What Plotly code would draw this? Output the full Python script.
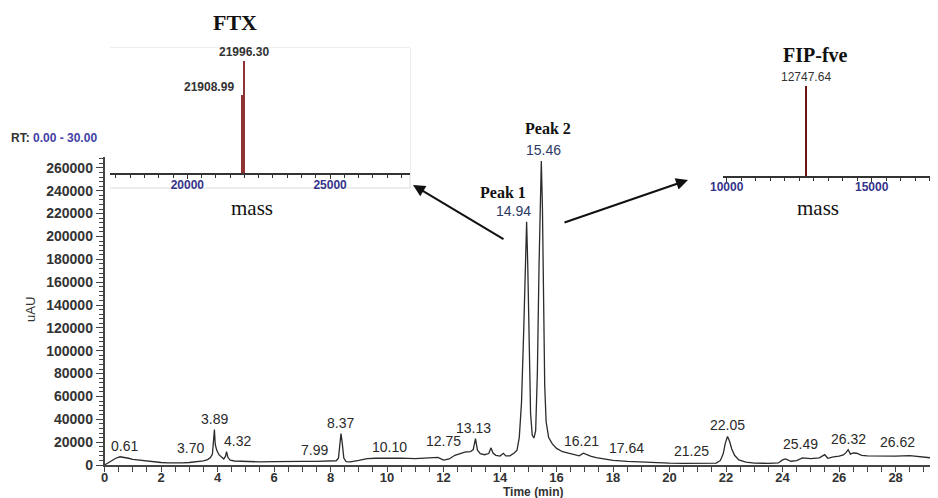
import plotly.graph_objects as go

# ---------------- data ----------------
time_min = [0.00, 0.10, 0.20, 0.40, 0.55, 0.70, 0.85, 1.00, 1.25, 1.50, 1.75, 2.00, 2.25, 2.50, 2.75,
            3.00, 3.30, 3.50, 3.65, 3.75, 3.82, 3.86, 3.89, 3.92, 3.97, 4.05, 4.15, 4.22, 4.28, 4.32,
            4.37, 4.45, 4.60, 5.00, 5.50, 6.00, 6.50, 7.00, 7.50, 7.99, 8.20, 8.28, 8.33, 8.37, 8.42,
            8.47, 8.55, 8.70, 9.00, 9.30, 9.60, 10.00, 10.50, 11.00, 11.50, 11.80, 12.00, 12.20, 12.40,
            12.60, 12.75, 12.95, 13.05, 13.13, 13.20, 13.30, 13.45, 13.60, 13.68, 13.75, 13.85, 14.00,
            14.12, 14.20, 14.35, 14.50, 14.60, 14.68, 14.76, 14.84, 14.90, 14.94, 14.98, 15.03, 15.08,
            15.14, 15.20, 15.26, 15.32, 15.38, 15.43, 15.46, 15.50, 15.54, 15.58, 15.63, 15.72, 15.85,
            16.00, 16.21, 16.40, 16.60, 16.80, 16.95, 17.05, 17.20, 17.40, 17.64, 18.00, 18.50, 19.00,
            19.50, 20.00, 20.50, 21.00, 21.25, 21.45, 21.65, 21.80, 21.90, 21.97, 22.05, 22.12, 22.20,
            22.30, 22.45, 22.70, 23.00, 23.50, 23.85, 24.00, 24.10, 24.30, 24.50, 24.70, 25.00, 25.30,
            25.49, 25.60, 25.80, 26.00, 26.15, 26.25, 26.32, 26.40, 26.50, 26.62, 26.80, 27.00, 27.50,
            28.00, 28.50, 29.00, 29.50]
intensity_uAU = [0, 1500, 3100, 5900, 7200, 6800, 5900, 5000, 4200, 3400, 2800, 2200, 1900, 1600, 1800,
                 2200, 2800, 3600, 4700, 6500, 9500, 20000, 31000, 18000, 13000, 9000, 6500, 5300, 7500, 11600,
                 6500, 4200, 3500, 2900, 2700, 2900, 2700, 3100, 3200, 3700, 3700, 6000, 18000, 27500, 18000,
                 6000, 3000, 2800, 4100, 5600, 5900, 6200, 6000, 5600, 6000, 6600, 4300, 5300, 8500,
                 10300, 11200, 11600, 13500, 23000, 13000, 10000, 9000, 10000, 15000, 10500, 8500, 7800,
                 10200, 8000, 8000, 10500, 13000, 24000, 55000, 120000, 185000, 212800, 175000, 100000, 45000,
                 26000, 23600, 30000, 80000, 175000, 245000, 266000, 225000, 140000, 70000, 38000, 24000, 18500,
                 14500, 11600, 10300, 8800, 8000, 10300, 9000, 7800, 6500, 5600, 4100, 3200, 2500,
                 2000, 1600, 1500, 1600, 2200, 1800, 1700, 4000, 10000, 19000, 25000, 21000, 14000,
                 8500, 4500, 2500, 1600, 1500, 1800, 4500, 5300, 3300, 3800, 6200, 5600, 6200,
                 9000, 5900, 7200, 7800, 8800, 11000, 13400, 9500, 10500, 10300, 8400, 8000, 7600,
                 7800, 8200, 6600, 5600]

peak_rt = ["0.61", "3.70", "3.89", "4.32", "7.99", "8.37", "10.10", "12.75", "13.13", "14.94",
           "15.46", "16.21", "17.64", "21.25", "22.05", "25.49", "26.32", "26.62"]
peak_height = [7200, 5600, 31000, 11600, 3700, 27500, 6200, 11200, 23000, 212800,
               266000, 11600, 5600, 2200, 25000, 9000, 13400, 10300]

ftx_mass = [21908.99, 21996.30]
ftx_rel_abund = [70, 100]
fip_mass = [12747.64]
fip_rel_abund = [100]

# ---------------- layout helpers ----------------
# the page body has an 8px margin, so the figure is drawn 8px in from the top-left
OFF = 8
W, H = 938 - OFF, 498 - OFF


def px(x, y):
    """reference-image pixel -> paper coordinate"""
    return (x - OFF) / W, 1 - (y - OFF) / H


# per-label pixel offsets (label placement only)
label_xshift = [3, -19, 0, 11, -16, 0, 0, -21, -2, -13, 2, 19, 24, -13, 0, -24, 0, 41]
label_color = ["#2a2a2a"] * 9 + ["#2c3a66", "#2c3a66"] + ["#2a2a2a"] * 7

fig = go.Figure()

fig.add_trace(go.Scatter(x=time_min, y=intensity_uAU, mode="lines",
                         line=dict(color="#2b2b2b", width=1.3), xaxis="x", yaxis="y",
                         showlegend=False, hoverinfo="skip"))

fig.add_trace(go.Bar(x=ftx_mass, y=ftx_rel_abund, width=[55, 55],
                     marker=dict(color="#8e3434", line=dict(width=0)),
                     xaxis="x2", yaxis="y2", showlegend=False))
fig.add_trace(go.Bar(x=fip_mass, y=fip_rel_abund, width=[60],
                     marker=dict(color="#6a1414", line=dict(width=0)),
                     xaxis="x3", yaxis="y3", showlegend=False))

tickfont_main = dict(family="Liberation Sans, Arial", size=14, color="#333333", weight="bold")
tickfont_x = dict(family="Liberation Sans, Arial", size=13, color="#333333", weight="bold")
tickfont_ins = dict(family="Liberation Sans, Arial", size=12, color="#34348a", weight="bold")

main_x0, main_y0 = px(104.5, 465)
main_x1, main_y1 = px(938, 157)

ftx_x0, ftx_y0 = px(110, 173)
ftx_x1, ftx_y1 = px(410, 48)
fip_x0, fip_y0 = px(723, 176)
fip_x1, fip_y1 = px(938, 80)

fig.update_layout(
    width=W, height=H,
    margin=dict(l=0, r=0, t=0, b=0),
    paper_bgcolor="white", plot_bgcolor="white",
    bargap=0,
    xaxis=dict(domain=[main_x0, main_x1], range=[0, 29.5], anchor="y", automargin=False,
               showgrid=False, zeroline=False, showline=True, linecolor="#444", linewidth=1.5,
               ticks="outside", ticklen=5, tickwidth=1.3, tickcolor="#444", dtick=2, tick0=0,
               minor=dict(dtick=0.5, ticks="outside", ticklen=5, tickcolor="#444", tickwidth=1.1),
               tickfont=tickfont_x, ticklabelstandoff=-5),
    yaxis=dict(domain=[main_y0, main_y1], range=[0, 269500], anchor="x", automargin=False,
               showgrid=False, zeroline=False, showline=True, linecolor="#444", linewidth=1.5,
               ticks="outside", ticklen=7, tickwidth=1.3, tickcolor="#444", dtick=20000, tick0=0,
               minor=dict(dtick=4000, ticks="outside", ticklen=4, tickcolor="#444", tickwidth=1.1),
               tickfont=tickfont_main, tickformat="d"),
    xaxis2=dict(domain=[ftx_x0, ftx_x1], range=[17290, 27800], anchor="y2", automargin=False,
                showgrid=False, zeroline=False, showline=True, linecolor="#333", linewidth=1.5,
                ticks="outside", ticklen=4, tickcolor="#333", dtick=5000, tick0=0,
                minor=dict(dtick=500, ticks="outside", ticklen=3, tickcolor="#333"),
                tickfont=tickfont_ins, tickformat="d", ticklabelstandoff=-4),
    yaxis2=dict(domain=[ftx_y0, ftx_y1], range=[0, 111.6], anchor="x2", visible=False, automargin=False),
    xaxis3=dict(domain=[fip_x0, fip_x1], range=[9872, 17286], anchor="y3", automargin=False,
                showgrid=False, zeroline=False, showline=True, linecolor="#333", linewidth=1.5,
                ticks="outside", ticklen=4, tickcolor="#333", dtick=5000, tick0=0,
                minor=dict(dtick=500, ticks="outside", ticklen=3, tickcolor="#333"),
                tickfont=tickfont_ins, tickformat="d", ticklabelstandoff=-5),
    yaxis3=dict(domain=[fip_y0, fip_y1], range=[0, 106.7], anchor="x3", visible=False, automargin=False),
)

# light frame of the FTX inset (top, right, bottom)
bx0, by0 = px(110, 48)
bx1, by1 = px(410, 188)
fig.add_shape(type="path", xref="paper", yref="paper", layer="below",
              path=f"M {bx0},{by0} L {bx1},{by0} L {bx1},{by1} L {bx0},{by1}",
              line=dict(color="#dcdcdc", width=1))

ann = []
# peak labels on chromatogram
for rt, h, xs, col in zip(peak_rt, peak_height, label_xshift, label_color):
    ann.append(dict(x=float(rt), y=h, xref="x", yref="y", text=rt, showarrow=False,
                    xanchor="center", yanchor="bottom", xshift=xs, yshift=1,
                    font=dict(family="Liberation Sans, Arial", size=14, color=col)))

# mass labels on insets
ann.append(dict(x=ftx_mass[1], y=ftx_rel_abund[1], xref="x2", yref="y2", text=f"{ftx_mass[1]:.2f}",
                showarrow=False, xanchor="center", yanchor="bottom", yshift=0,
                font=dict(family="Liberation Sans, Arial", size=12, color="#333", weight="bold")))
ann.append(dict(x=ftx_mass[0], y=ftx_rel_abund[0], xref="x2", yref="y2", text=f"{ftx_mass[0]:.2f}",
                showarrow=False, xanchor="right", yanchor="bottom", xshift=-6, yshift=-1,
                font=dict(family="Liberation Sans, Arial", size=12, color="#333", weight="bold")))
ann.append(dict(x=fip_mass[0], y=fip_rel_abund[0], xref="x3", yref="y3", text=f"{fip_mass[0]:.2f}",
                showarrow=False, xanchor="center", yanchor="bottom", yshift=0,
                font=dict(family="Liberation Sans, Arial", size=12, color="#333")))

serif_b = dict(family="Liberation Serif, Times New Roman", color="#111", weight="bold")
serif = dict(family="Liberation Serif, Times New Roman", color="#111")


def txt(x, y, text, font, **kw):
    X, Y = px(x, y)
    d = dict(x=X, y=Y, xref="paper", yref="paper", text=text, showarrow=False,
             xanchor="center", yanchor="middle", font=font)
    d.update(kw)
    ann.append(d)


txt(235, 22, "FTX", dict(serif_b, size=22))
txt(815, 55, "FIP-fve", dict(serif_b, size=20))
txt(252, 208, "mass", dict(serif, size=21))
txt(818, 208, "mass", dict(serif, size=21))
txt(503, 192, "Peak 1", dict(serif_b, size=16))
txt(548, 129, "Peak 2", dict(serif_b, size=16))
txt(30, 310, "uAU", dict(family="Liberation Sans, Arial", size=13, color="#333"), textangle=-90)
txt(533, 492, "Time (min)", dict(family="Liberation Sans, Arial", size=12, color="#333", weight="bold"))
txt(9, 138, "RT: <span style='color:#3f3fa6'>0.00 - 30.00</span>",
    dict(family="Liberation Sans, Arial", size=12, color="#333", weight="bold"),
    xanchor="left")

# arrows pointing to insets
for (hx, hy), (tx, ty) in [((413, 185), (505, 240)), ((688, 180), (563, 223))]:
    X, Y = px(hx, hy)
    ann.append(dict(x=X, y=Y, xref="paper", yref="paper", text="", showarrow=True,
                    ax=tx - hx, ay=ty - hy, axref="pixel", ayref="pixel",
                    arrowhead=2, arrowsize=1.2, arrowwidth=2, arrowcolor="#111"))

fig.update_layout(annotations=ann)

fig.write_html("out.html")
